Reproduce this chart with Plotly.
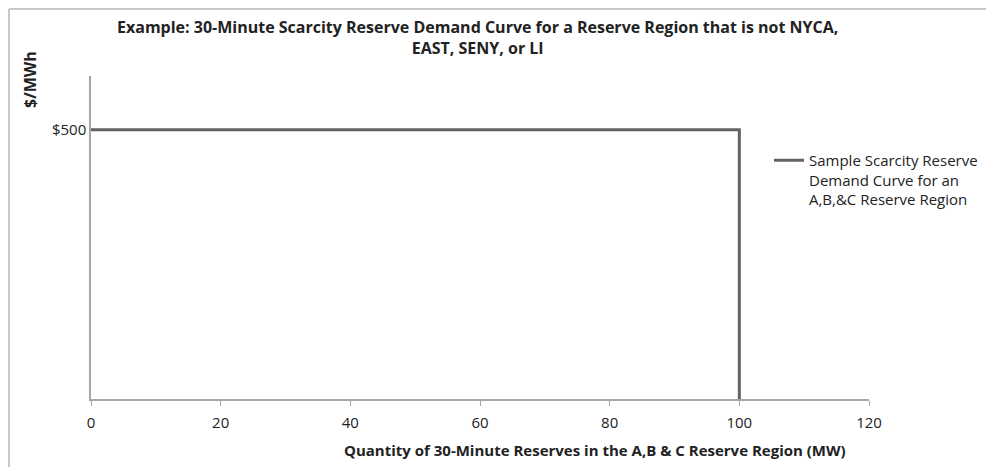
import plotly.graph_objects as go

quantity_mw = [0, 100, 100]
price = [500, 500, 0]
series_name = "Sample Scarcity Reserve<br>Demand Curve for an<br>A,B,&C Reserve Region"
x_ticks = [0, 20, 40, 60, 80, 100, 120]
y_ticks = [500]
y_tick_labels = ["$500"]

FONT = "Open Sans"
TXT = "#222222"
OFF = 8  # page body margin
W, H = 994 - 2 * OFF, 475 - 2 * OFF
# plot area in screen pixels: left 91, right 869, top 76, bottom 399
L, T = 91 - OFF, 76 - OFF
R, B = W - (869 - OFF), H - (399 - OFF)
PW, PH = W - L - R, H - T - B


def px(x):
    return (x - OFF - L) / PW


def py(y):
    return 1 - (y - OFF - T) / PH


fig = go.Figure()
fig.add_trace(go.Scatter(x=quantity_mw, y=price, mode="lines", name=series_name,
                         line=dict(color="#636363", width=3)))

fig.update_layout(
    width=W, height=H,
    margin=dict(l=L, r=R, t=T, b=B, autoexpand=False),
    paper_bgcolor="white", plot_bgcolor="white",
    font=dict(family=FONT, size=15, color=TXT),
    showlegend=True,
    legend=dict(x=px(769), xanchor="left", y=py(144), yanchor="top",
                font=dict(size=15, color=TXT), valign="top",
                bgcolor="rgba(0,0,0,0)", tracegroupgap=0),
    xaxis=dict(range=[0, 120], tickvals=x_ticks, showgrid=False, zeroline=False,
               showline=True, linecolor="#a6a6a6", linewidth=1.5,
               ticks="outside", ticklen=5, tickcolor="#a6a6a6",
               ticklabelstandoff=4,
               tickfont=dict(size=15, color=TXT)),
    yaxis=dict(range=[0, 600], tickvals=y_ticks, ticktext=y_tick_labels,
               showgrid=False, zeroline=False, showline=True,
               linecolor="#a6a6a6", linewidth=1.5, ticks="",
               tickfont=dict(size=15, color=TXT)),
    annotations=[
        dict(text="<b>Example: 30-Minute Scarcity Reserve Demand Curve for a Reserve Region that is not NYCA,<br>EAST, SENY, or LI</b>",
             xref="paper", yref="paper", x=px(477), y=py(38), xanchor="center", yanchor="middle",
             showarrow=False, font=dict(size=16, color=TXT)),
        dict(text="<b>$/MWh</b>", xref="paper", yref="paper", x=px(30), y=py(80),
             xanchor="center", yanchor="middle", textangle=-90, showarrow=False,
             font=dict(size=16, color=TXT)),
        dict(text="<b>Quantity of 30-Minute Reserves in the A,B & C Reserve Region (MW)</b>",
             xref="paper", yref="paper", x=px(595), y=py(450),
             xanchor="center", yanchor="middle", showarrow=False,
             font=dict(size=15, color=TXT)),
    ],
    shapes=[
        dict(type="line", xref="paper", yref="paper", x0=px(9), x1=px(1000),
             y0=py(9), y1=py(9), line=dict(color="#b4b4b4", width=1.5)),
        dict(type="line", xref="paper", yref="paper", x0=px(9), x1=px(9),
             y0=py(9), y1=py(480), line=dict(color="#b4b4b4", width=1.5)),
    ],
)
fig.write_html("out.html")
